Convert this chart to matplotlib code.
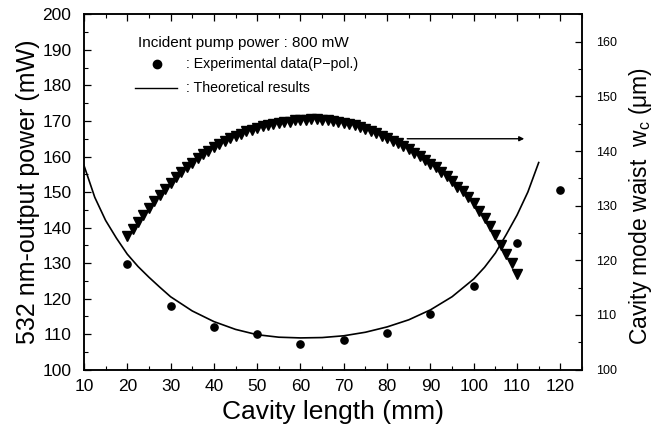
import numpy as np
import matplotlib
matplotlib.use("Agg")
import matplotlib.pyplot as plt
from matplotlib.ticker import MultipleLocator

plt.rcParams['font.family'] = ['Liberation Sans', 'DejaVu Sans']
plt.rcParams['mathtext.fontset'] = 'custom'
plt.rcParams['mathtext.rm'] = 'Liberation Sans'
plt.rcParams['mathtext.it'] = 'Liberation Sans'

# experimental data (left axis, mW)
exp_len = [20, 30, 40, 50, 60, 70, 80, 90, 100, 110, 120]
exp_power = [129.8, 118.0, 112.0, 110.0, 107.3, 108.3, 110.2, 115.5, 123.5, 135.5, 150.5]

# theoretical curve (left axis, mW)
theo_len = [10, 12.5, 15, 17.5, 20, 22.5, 25, 27.5, 30, 35, 40, 45, 50, 55, 60, 65,
            70, 75, 80, 85, 90, 95, 100, 102.5, 105, 107.5, 110, 112.5, 115]
theo_power = [157.5, 148.5, 142.0, 137.0, 132.5, 129.0, 126.0, 123.2, 120.5, 116.5,
              113.5, 111.3, 109.8, 109.1, 108.9, 109.0, 109.5, 110.5, 112.0, 114.0,
              116.8, 120.5, 125.5, 128.8, 132.8, 138.0, 143.5, 150.0, 158.3]

# cavity mode waist (right axis, um), every 1.25 mm from 20 to 110 mm
waist_len = np.arange(20, 110.01, 1.25)
waist = [124.4, 125.7, 127.0, 128.3, 129.5, 130.8, 131.9, 133.1, 134.2, 135.2,
         136.1, 137.1, 137.9, 138.7, 139.4, 140.0, 140.7, 141.3, 141.8, 142.3,
         142.8, 143.2, 143.6, 143.9, 144.2, 144.5, 144.7, 144.9, 145.1, 145.3,
         145.4, 145.6, 145.6, 145.7, 145.8, 145.8, 145.7, 145.6, 145.5, 145.4,
         145.2, 145.0, 144.7, 144.4, 144.1, 143.7, 143.3, 142.8, 142.4, 141.9,
         141.4, 140.9, 140.3, 139.7, 139.1, 138.4, 137.7, 137.0, 136.2, 135.4,
         134.5, 133.5, 132.6, 131.5, 130.4, 129.1, 127.7, 126.2, 124.6, 122.8,
         121.2, 119.5, 117.5]

fig = plt.figure(figsize=(6.61, 4.34), dpi=100)
ax = fig.add_axes([0.127, 0.1486, 0.7535, 0.818])
ax2 = ax.twinx()

ax.plot(theo_len, theo_power, color='black', lw=1.2)
ax.plot(exp_len, exp_power, 'o', color='black', ms=5.2, ls='none')
ax2.plot(waist_len, waist, 'v', color='black', ms=6.5, ls='none')

ax.set_xlim(10, 125)
ax.set_ylim(100, 200)
ax2.set_ylim(100, 165)

ax.xaxis.set_major_locator(MultipleLocator(10))
ax.xaxis.set_minor_locator(MultipleLocator(5))
ax.yaxis.set_major_locator(MultipleLocator(10))
ax.yaxis.set_minor_locator(MultipleLocator(5))
ax2.yaxis.set_major_locator(MultipleLocator(10))
ax2.yaxis.set_minor_locator(MultipleLocator(5))

ax.tick_params(axis='x', which='both', direction='in', top=True, labelsize=12.5, pad=7)
ax.tick_params(axis='y', which='both', direction='in', right=False, labelsize=12.5, pad=9)
ax.tick_params(which='major', length=5, width=0.9)
ax.tick_params(which='minor', length=3, width=0.8)
ax2.tick_params(axis='y', which='both', direction='in', labelsize=9, pad=10)
ax2.tick_params(which='major', length=5, width=0.9)
ax2.tick_params(which='minor', length=3, width=0.8)
ax2.set_yticks([100, 110, 120, 130, 140, 150, 160])

for a in (ax, ax2):
    for s in a.spines.values():
        s.set_linewidth(1.1)

ax.set_xlabel('Cavity length (mm)', fontsize=19, labelpad=4)
ax.set_ylabel('532 nm-output power (mW)', fontsize=18, labelpad=2)
ax2.set_ylabel(r'Cavity mode waist  w$_\mathrm{c}$ ($\mu$m)', fontsize=16.5)
ax2.yaxis.set_label_coords(1.09, 0.46)

# legend-like annotations
ax.text(22.5, 192, 'Incident pump power : 800 mW', fontsize=11, va='center', ha='left')
ax.plot([26.9], [186.0], 'o', color='black', ms=6)
ax.text(33.6, 186.0, ': Experimental data(P\u2212pol.)', fontsize=10.2, va='center', ha='left')
ax.plot([21.8, 31.4], [179.2, 179.2], color='black', lw=1.0)
ax.text(33.6, 179.2, ': Theoretical results', fontsize=10.2, va='center', ha='left')

# arrow pointing to right axis
ax.annotate('', xy=(112.3, 165.0), xytext=(84.0, 165.0),
            arrowprops=dict(arrowstyle='-|>', color='black', lw=1.0,
                            mutation_scale=7))

fig.savefig('out.png', dpi=100)
